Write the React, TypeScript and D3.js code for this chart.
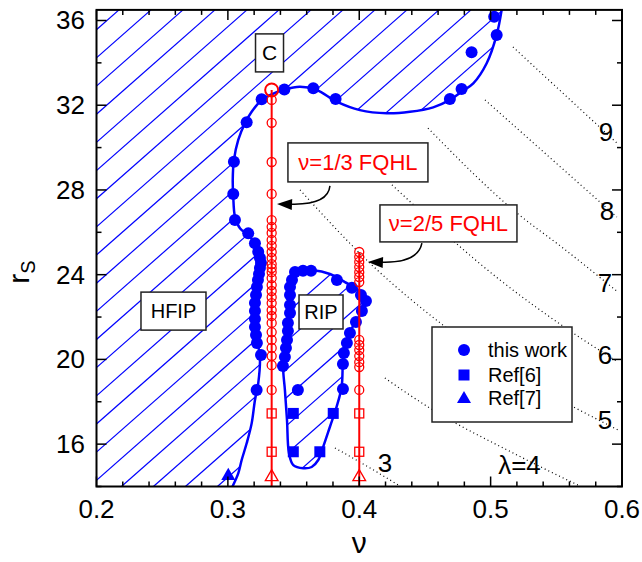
import { useEffect, useRef } from 'react';
import * as d3 from 'd3';

type Pt = [number, number];

// filled blue circles: this work (nu, r_s)
const thisWork: Pt[] = [
  [0.5027, 36.18], [0.5046, 35.32], [0.4855, 34.5], [0.4779, 32.77], [0.469, 32.29],
  [0.382, 32.29], [0.365, 32.8], [0.343, 32.74], [0.3257, 32.28], [0.3143, 31.2],
  [0.3046, 29.33], [0.3041, 27.81], [0.3054, 26.58], [0.3155, 25.95], [0.3206, 25.48],
  [0.3231, 25.08], [0.3244, 24.79], [0.3252, 24.55], [0.3244, 24.31], [0.3237, 24.03],
  [0.3229, 23.75], [0.3221, 23.42], [0.3214, 23.04], [0.3206, 22.66], [0.3206, 22.28],
  [0.3206, 21.91], [0.3206, 21.53], [0.3214, 21.15], [0.3221, 20.78], [0.3252, 20.21],
  [0.3219, 18.56],
  [0.3419, 19.69], [0.3434, 20.11], [0.3442, 20.54], [0.345, 20.92], [0.3457, 21.34],
  [0.3457, 21.72], [0.3473, 22.19], [0.3473, 22.57], [0.3473, 23.04], [0.3473, 23.42],
  [0.3488, 23.75], [0.3511, 24.13], [0.3572, 24.18], [0.3633, 24.18], [0.383, 23.75],
  [0.3944, 23.38], [0.4013, 23.04], [0.4051, 22.76], [0.402, 22.28], [0.3975, 21.77],
  [0.3929, 21.25], [0.3906, 20.78], [0.3883, 20.3], [0.3876, 19.78], [0.3533, 18.56],
  [0.3876, 18.6],
];
const ref6: Pt[] = [[0.3498, 17.45], [0.3802, 17.45], [0.3498, 15.64], [0.37, 15.64]];
const ref7: Pt[] = [[0.3003, 14.5]];

// phase boundaries (blue curves)
const outerBoundary: Pt[] = [
  [0.5084, 36.5], [0.5046, 35.32], [0.497, 33.98], [0.4868, 33.03], [0.4779, 32.64],
  [0.469, 32.25], [0.4563, 31.9], [0.4386, 31.69], [0.4209, 31.62], [0.4005, 31.77],
  [0.3828, 32.17], [0.3676, 32.72], [0.3549, 32.87], [0.3435, 32.75], [0.332, 32.48],
  [0.3257, 32.25], [0.3181, 31.69], [0.313, 31.15], [0.3079, 30.36], [0.3046, 29.41],
  [0.3037, 28.47], [0.3041, 27.68], [0.3054, 26.74], [0.3092, 26.19], [0.3168, 25.79],
  [0.3219, 25.32], [0.3244, 24.85], [0.3237, 24.22], [0.3221, 23.27], [0.3214, 22.33],
  [0.3214, 21.38], [0.3229, 20.7], [0.3244, 20.11], [0.3231, 18.87], [0.3206, 18.07],
  [0.3181, 16.98], [0.3143, 16.04], [0.3105, 15.25], [0.3079, 14.62], [0.3035, 14.0],
];
const ripBoundary: Pt[] = [
  [0.3421, 19.65], [0.3442, 20.68], [0.3457, 21.62], [0.3473, 22.57], [0.3473, 23.37],
  [0.3495, 23.94], [0.3549, 24.22], [0.364, 24.22], [0.3777, 24.03], [0.3891, 23.65],
  [0.399, 23.28], [0.4051, 22.8], [0.402, 22.24], [0.3967, 21.72], [0.3922, 21.2],
  [0.3891, 20.68], [0.3876, 19.97], [0.3866, 18.71], [0.3828, 17.77], [0.3777, 16.82],
  [0.3726, 15.88], [0.3688, 15.25], [0.3638, 14.92], [0.3574, 14.86], [0.3498, 15.01],
  [0.3465, 15.58], [0.345, 17.14], [0.3434, 18.56],
];

// FQHL states (red)
const fqhl13Circles = [
  32.25, 31.17, 29.32, 27.81, 26.58, 26.26, 25.97, 25.64, 25.36, 25.07, 24.79, 24.5,
  24.31, 24.12, 23.84, 23.51, 23.23, 22.94, 22.66, 22.33, 22.05, 21.72, 21.29, 20.92,
  20.54, 20.16, 19.73, 18.56,
];
const fqhl25Circles = [
  25.07, 24.83, 24.6, 24.36, 24.12, 23.89, 23.65, 20.92, 20.68, 20.44, 20.16, 19.87,
  19.64, 18.56,
];
const fqhlSquares = [17.45, 15.64];
const fqhlTriangles = [14.45];
const criticalPoint: Pt = [1 / 3, 32.72];

// constant lambda (dotted)
const lambda3: Pt[] = [[0.3815, 15.82], [0.4135, 14.68], [0.431, 14.02]];
const lambda4: Pt[] = [[0.4195, 19.12], [0.4538, 17.7], [0.52, 15.49], [0.568, 14.02]];
const lambda5: Pt[] = [[0.3549, 28.0], [0.4104, 24.41], [0.4637, 21.62], [0.5969, 16.67]];
const lambda6: Pt[] = [[0.4249, 28.24], [0.5071, 23.75], [0.5627, 21.25], [0.5969, 19.88]];
const lambda7: Pt[] = [[0.4523, 30.92], [0.52, 26.91], [0.555, 25.26], [0.5969, 23.18]];
const lambda8: Pt[] = [[0.4957, 32.25], [0.5961, 26.72]];
const lambda9: Pt[] = [[0.517, 34.75], [0.5969, 30.17]];
const lambdaCurves = [lambda3, lambda4, lambda5, lambda6, lambda7, lambda8, lambda9];
const lambdaLabels = ['3', 'λ=4', '5', '6', '7', '8', '9'];
const lambdaLabelPos: Pt[] = [
  [0.4195, 15.11], [0.522, 15.02], [0.587, 17.14], [0.587, 20.2], [0.587, 23.6],
  [0.5885, 27.0], [0.5878, 30.73],
];

const xTicks = [0.2, 0.3, 0.4, 0.5, 0.6];
const yTicks = [16, 20, 24, 28, 32, 36];

export default function App() {
  const svgRef = useRef<SVGSVGElement>(null);

  useEffect(() => {
    if (!svgRef.current) return;
    const svg = d3.select(svgRef.current);
    svg.selectAll('*').remove();

    const x = d3.scaleLinear().domain([0.2, 0.6]).range([96.5, 622]);
    const y = d3.scaleLinear().domain([14, 36.5]).range([486.5, 9.9]);
    const [x0, x1] = x.range();
    const [yb, yt] = y.range();
    const blue = '#0000ff';
    const red = '#ff0000';
    const font = 'Arial, "Liberation Sans", sans-serif';

    const defs = svg.append('defs');
    defs.append('clipPath').attr('id', 'plot-clip')
      .append('rect').attr('x', x0).attr('y', yt).attr('width', x1 - x0).attr('height', yb - yt);

    const curve = d3.line<Pt>().x(d => x(d[0])).y(d => y(d[1])).curve(d3.curveCatmullRom.alpha(0.5));
    const closedCurve = d3.line<Pt>().x(d => x(d[0])).y(d => y(d[1])).curve(d3.curveCatmullRomClosed.alpha(0.5));

    const outerD = curve(outerBoundary)!;
    const ripD = closedCurve(ripBoundary)!;

    // hatched region = left/above outer boundary + RIP pocket
    const hatchClip = defs.append('clipPath').attr('id', 'hatch-clip');
    hatchClip.append('path').attr('d', `${outerD}L${x0},${yb}L${x0},${yt}Z`);
    hatchClip.append('path').attr('d', ripD);

    const plot = svg.append('g').attr('clip-path', 'url(#plot-clip)');

    const hatch = plot.append('g').attr('clip-path', 'url(#hatch-clip)');
    const slope = 0.88;
    const spacing = 32;
    for (let k = -25; k < 25; k++) {
      const xt = 311 + spacing * k;
      const xbot = xt - (yb - yt) / slope;
      if (xt < x0 - 5 || xbot > x1 + 5) continue;
      hatch.append('line')
        .attr('x1', xt).attr('y1', yt)
        .attr('x2', xbot).attr('y2', yb)
        .attr('stroke', blue).attr('stroke-width', 1.2);
    }

    // dotted constant-lambda lines
    const straight = d3.line<Pt>().x(d => x(d[0])).y(d => y(d[1])).curve(d3.curveMonotoneX);
    lambdaCurves.forEach(pts => {
      plot.append('path').attr('d', straight(pts)!)
        .attr('fill', 'none').attr('stroke', '#000').attr('stroke-width', 1.2)
        .attr('stroke-dasharray', '1,3');
    });

    // blue boundaries
    plot.append('path').attr('d', outerD).attr('fill', 'none').attr('stroke', blue).attr('stroke-width', 2.5);
    plot.append('path').attr('d', ripD).attr('fill', 'none').attr('stroke', blue).attr('stroke-width', 2.5);

    // blue data
    plot.selectAll('.tw').data(thisWork).enter().append('circle')
      .attr('cx', d => x(d[0])).attr('cy', d => y(d[1])).attr('r', 6).attr('fill', blue);
    plot.selectAll('.r6').data(ref6).enter().append('rect')
      .attr('x', d => x(d[0]) - 5.5).attr('y', d => y(d[1]) - 5.5)
      .attr('width', 11).attr('height', 11).attr('fill', blue);
    const triSym = d3.symbol().type(d3.symbolTriangle).size(85);
    plot.selectAll('.r7').data(ref7).enter().append('path')
      .attr('d', triSym()!)
      .attr('transform', d => `translate(${x(d[0])},${y(d[1])})`).attr('fill', blue);

    // red FQHL lines
    const drawFqhl = (nu: number, top: number, circles: number[]) => {
      plot.append('line')
        .attr('x1', x(nu)).attr('x2', x(nu)).attr('y1', y(top)).attr('y2', yb)
        .attr('stroke', red).attr('stroke-width', 2);
      circles.forEach(r => {
        plot.append('circle').attr('cx', x(nu)).attr('cy', y(r)).attr('r', 4.5)
          .attr('fill', 'none').attr('stroke', red).attr('stroke-width', 1.3);
      });
      fqhlSquares.forEach(r => {
        plot.append('rect').attr('x', x(nu) - 4.5).attr('y', y(r) - 4.5)
          .attr('width', 9).attr('height', 9)
          .attr('fill', 'none').attr('stroke', red).attr('stroke-width', 1.3);
      });
      const openTri = d3.symbol().type(d3.symbolTriangle).size(70);
      fqhlTriangles.forEach(r => {
        plot.append('path').attr('d', openTri()!)
          .attr('transform', `translate(${x(nu)},${y(r)})`)
          .attr('fill', 'none').attr('stroke', red).attr('stroke-width', 1.3);
      });
    };
    drawFqhl(1 / 3, criticalPoint[1], fqhl13Circles);
    drawFqhl(0.4, fqhl25Circles[0], fqhl25Circles);
    plot.append('circle').attr('cx', x(criticalPoint[0])).attr('cy', y(criticalPoint[1])).attr('r', 6.5)
      .attr('fill', 'none').attr('stroke', red).attr('stroke-width', 2);

    // lambda labels
    lambdaLabels.forEach((t, i) => {
      plot.append('text').attr('x', x(lambdaLabelPos[i][0])).attr('y', y(lambdaLabelPos[i][1]))
        .attr('text-anchor', 'middle').attr('dominant-baseline', 'central')
        .attr('font-family', font).attr('font-size', 26).attr('fill', '#000').text(t);
    });

    // boxed labels
    const box = (cx: number, cy: number, w: number, h: number, text: string, color: string, size: number) => {
      const px = x(cx), py = y(cy);
      svg.append('rect').attr('x', px - w / 2).attr('y', py - h / 2).attr('width', w).attr('height', h)
        .attr('fill', '#fff').attr('stroke', '#222').attr('stroke-width', 1.5);
      svg.append('text').attr('x', px).attr('y', py).attr('text-anchor', 'middle')
        .attr('dominant-baseline', 'central').attr('font-family', font).attr('font-size', size)
        .attr('fill', color).text(text);
    };
    box(0.3317, 34.47, 28, 38, 'C', '#000', 21);
    box(0.2586, 22.28, 65, 38, 'HFIP', '#000', 20);
    box(0.3709, 22.24, 44, 34, 'RIP', '#000', 20);
    box(0.399, 29.3, 140, 39, 'ν=1/3 FQHL', red, 22);
    box(0.4679, 26.42, 137, 37, 'ν=2/5 FQHL', red, 22);

    // curved arrows
    const arrow = (start: Pt, ctrl: Pt, tip: Pt) => {
      const s = [x(start[0]), y(start[1])];
      const c = [x(ctrl[0]), y(ctrl[1])];
      const t = [x(tip[0]), y(tip[1])];
      const p = d3.path();
      p.moveTo(s[0], s[1]);
      p.quadraticCurveTo(c[0], c[1], t[0] + 10, t[1]);
      svg.append('path').attr('d', p.toString()).attr('fill', 'none').attr('stroke', '#000').attr('stroke-width', 1.5);
      const ang = Math.atan2(t[1] - c[1], t[0] - c[0]);
      const L = 15, W = 5.5;
      const bx = t[0] - L * Math.cos(ang), by = t[1] - L * Math.sin(ang);
      const nx = -Math.sin(ang), ny = Math.cos(ang);
      svg.append('path')
        .attr('d', `M${t[0]},${t[1]}L${bx + W * nx},${by + W * ny}L${bx - W * nx},${by - W * ny}Z`)
        .attr('fill', '#000');
    };
    arrow([0.3777, 28.19], [0.3762, 27.24], [0.3374, 27.34]);
    arrow([0.4477, 25.49], [0.4447, 24.5], [0.4066, 24.6]);

    // legend
    const lg = svg.append('g');
    lg.append('rect').attr('x', 432).attr('y', 327).attr('width', 140).attr('height', 95)
      .attr('fill', '#fff').attr('stroke', '#222').attr('stroke-width', 1.5);
    lg.append('circle').attr('cx', 464).attr('cy', 350).attr('r', 6).attr('fill', blue);
    lg.append('rect').attr('x', 458.5).attr('y', 369.5).attr('width', 11).attr('height', 11).attr('fill', blue);
    lg.append('path').attr('d', triSym()!).attr('transform', 'translate(464,399)').attr('fill', blue);
    [['this work', 350], ['Ref[6]', 375], ['Ref[7]', 398]].forEach(([t, yy]) => {
      lg.append('text').attr('x', 488).attr('y', yy as number).attr('dominant-baseline', 'central')
        .attr('font-family', font).attr('font-size', 20).attr('fill', '#000').text(t as string);
    });

    // frame and ticks
    const ax = svg.append('g');
    ax.append('rect').attr('x', x0).attr('y', yt).attr('width', x1 - x0).attr('height', yb - yt)
      .attr('fill', 'none').attr('stroke', '#000').attr('stroke-width', 2);
    d3.range(0, 21).forEach(i => {
      const v = 0.2 + i * 0.02;
      const len = i % 5 === 0 ? 10 : 5;
      ax.append('line').attr('x1', x(v)).attr('x2', x(v)).attr('y1', yb).attr('y2', yb - len)
        .attr('stroke', '#000').attr('stroke-width', 1.5);
      ax.append('line').attr('x1', x(v)).attr('x2', x(v)).attr('y1', yt).attr('y2', yt + len)
        .attr('stroke', '#000').attr('stroke-width', 1.5);
    });
    d3.range(0, 12).forEach(i => {
      const v = 14 + i * 2;
      const len = v % 4 === 0 ? 10 : 5;
      ax.append('line').attr('x1', x0).attr('x2', x0 + len).attr('y1', y(v)).attr('y2', y(v))
        .attr('stroke', '#000').attr('stroke-width', 1.5);
      ax.append('line').attr('x1', x1).attr('x2', x1 - len).attr('y1', y(v)).attr('y2', y(v))
        .attr('stroke', '#000').attr('stroke-width', 1.5);
    });
    xTicks.forEach(v => {
      ax.append('text').attr('x', x(v)).attr('y', 518).attr('text-anchor', 'middle')
        .attr('font-family', font).attr('font-size', 26).attr('fill', '#000').text(v.toFixed(1));
    });
    yTicks.forEach(v => {
      ax.append('text').attr('x', 85).attr('y', y(v) + 9).attr('text-anchor', 'end')
        .attr('font-family', font).attr('font-size', 26).attr('fill', '#000').text(String(v));
    });

    // axis titles
    ax.append('text').attr('x', (x0 + x1) / 2).attr('y', 553).attr('text-anchor', 'middle')
      .attr('font-family', font).attr('font-size', 30).attr('fill', '#000').text('ν');
    const yl = ax.append('text').attr('transform', `translate(29,272) rotate(-90)`)
      .attr('text-anchor', 'middle').attr('font-family', font).attr('font-size', 30).attr('fill', '#000');
    yl.append('tspan').text('r');
    yl.append('tspan').attr('font-size', 20).attr('dy', 6).text('S');
  }, []);

  return (
    <div style={{ position: 'absolute', left: 0, top: 0, background: '#fff' }}>
      <svg ref={svgRef} width={642} height={562} style={{ display: 'block' }} />
    </div>
  );
}
